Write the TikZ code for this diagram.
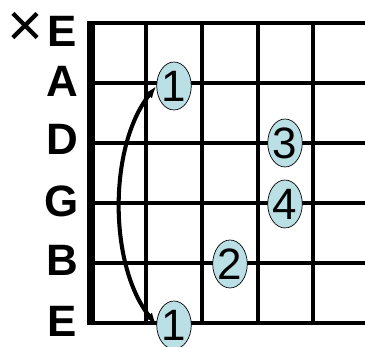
\documentclass[tikz,border=0pt]{standalone}
\usepackage{fontspec}
\setmainfont{Liberation Sans}
\usepackage{xcolor}
\usepackage{tikz}
\usetikzlibrary{arrows.meta, positioning, shapes.geometric}

\definecolor{fingerblue}{RGB}{186,224,229}

\begin{document}
\begin{tikzpicture}[x=0.02cm, y=-0.02cm,
  wire/.style={line width=2.3pt},
  nut/.style={line width=4pt},
  strname/.style={font=\fontsize{25pt}{28pt}\selectfont\bfseries, inner sep=0pt},
  finger/.style={draw, ellipse, thin, fill=fingerblue, inner sep=0pt, minimum width=0.68cm, minimum height=0.96cm, font=\fontsize{25pt}{28pt}\selectfont},
  arc/.style={{Latex[length=7pt, width=5pt]}-{Latex[length=7pt, width=5pt]}, line width=2.3pt}
]
\useasboundingbox (0,0) rectangle (365,347);

% Strings
\draw[wire] (88,23) -- (365,23);
\draw[wire] (88,83) -- (365,83);
\draw[wire] (88,143) -- (365,143);
\draw[wire] (88,203) -- (365,203);
\draw[wire] (88,263) -- (365,263);
\draw[wire] (88,323) -- (365,323);

% Frets and nut
\draw[wire] (146,23) -- (146,323);
\draw[wire] (202,23) -- (202,323);
\draw[wire] (258,23) -- (258,323);
\draw[wire] (313,23) -- (313,323);
\draw[nut] (91,21) -- (91,325);

% String names
\node[font=\fontsize{35pt}{36pt}\selectfont, inner sep=0pt] (mute) at (25,29) {×};
\node[strname] (str_e_top) at (62,31) {E};
\node[strname] (str_a) at (62,81) {A};
\node[strname] (str_d) at (62,139) {D};
\node[strname] (str_g) at (62,201) {G};
\node[strname] (str_b) at (62,260) {B};
\node[strname] (str_e_bot) at (62,321) {E};

% Fingers
\node[finger] (fing_one_top) at (174,86) {1};
\node[finger] (fing_one_bot) at (174,325) {1};
\node[finger] (fing_two) at (230,264) {2};
\node[finger] (fing_three) at (285,143) {3};
\node[finger] (fing_four) at (285,204) {4};

% Barre arc
\draw[arc] (fing_one_bot.west) .. controls +(-48,-60) and +(-48,60) .. (fing_one_top.west);

\end{tikzpicture}
\end{document}
